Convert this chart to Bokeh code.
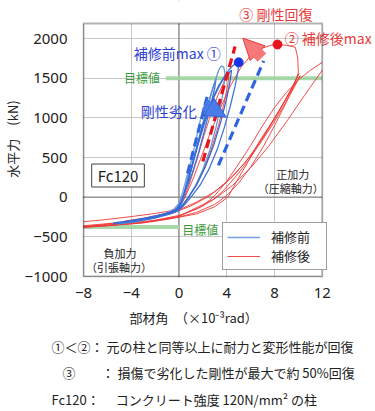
from bokeh.plotting import figure
from bokeh.models import (Label, Legend, LegendItem, Span, Arrow, NormalHead, FixedTicker,
                          Range1d, BoxAnnotation, Title)
from bokeh.embed import file_html
from bokeh.resources import INLINE

FONT = "Noto Sans CJK JP"
NUM_FONT = "Noto Sans"

# ---------------- data ----------------
x_ticks = [-8, -4, 0, 4, 8, 12]
y_ticks = [-1000, -500, 0, 500, 1000, 1500, 2000]
x_tick_text = ["\u22128", "\u22124", "0", "4", "8", "12"]

# 補修前 (before repair) hysteresis loops
blue_x = [
    [-2.0, -1.2, -0.6, -0.2, 0.1, 0.35, 0.7, 1.1, 1.5, 1.8, 1.7, 1.4, 1.0, 0.6, 0.3, 0.0, -0.5, -1.2, -2.0],
    [-3.6, -2.5, -1.5, -0.8, -0.3, 0.1, 0.4, 0.8, 1.3, 1.8, 2.3, 2.8, 3.1, 3.0, 2.6, 2.1, 1.6, 1.1, 0.6, 0.2, -0.3, -1.2, -2.4, -3.6],
    [-5.2, -4.0, -2.8, -1.6, -0.8, -0.3, 0.1, 0.5, 1.0, 1.6, 2.2, 2.7, 3.1, 3.35, 3.55, 3.75, 3.85, 3.75, 3.5, 3.1, 2.6, 2.0, 1.4, 0.8, 0.3, -0.2, -1.0, -2.2, -3.6, -5.2],
    [-4.5, -3.0, -1.5, -0.6, -0.1, 0.3, 0.8, 1.4, 2.0, 2.7, 3.3, 3.9, 4.4, 4.3, 4.0, 3.5, 2.9, 2.2, 1.5, 0.8, 0.2, -0.5, -2.0, -4.5],
    [-5.5, -4.2, -3.0, -1.8, -1.0, -0.4, 0.0, 0.4, 0.9, 1.5, 2.2, 2.9, 3.6, 4.2, 4.6, 5.0, 4.95, 4.7, 4.3, 3.8, 3.2, 2.5, 1.8, 1.1, 0.5, 0.0, -0.8, -2.0, -3.5, -5.5],
]
blue_y = [
    [-240, -215, -190, -165, -110, 0, 220, 500, 780, 980, 900, 700, 450, 230, 60, -80, -160, -210, -245],
    [-300, -270, -235, -205, -175, -120, 0, 220, 520, 820, 1100, 1360, 1490, 1380, 1120, 820, 540, 300, 100, -60, -160, -220, -265, -305],
    [-335, -310, -280, -240, -205, -175, -110, 60, 330, 680, 1020, 1300, 1500, 1610, 1655, 1640, 1560, 1380, 1150, 880, 600, 350, 150, 0, -100, -170, -220, -270, -310, -340],
    [-310, -275, -230, -195, -150, -20, 230, 560, 900, 1200, 1400, 1530, 1600, 1480, 1250, 950, 650, 380, 160, 0, -120, -190, -250, -315],
    [-325, -300, -270, -230, -200, -170, -120, 40, 300, 620, 960, 1250, 1470, 1610, 1670, 1700, 1600, 1400, 1150, 880, 600, 350, 160, 20, -90, -165, -215, -260, -300, -335],
]
blue_colors = ["#6f9ce2", "#3a6dd6", "#5b96d6", "#2e60cf", "#3a6dd6"]

# 補修後 (after repair) hysteresis loops (the largest cycle leaves the chart at x = 12)
red_x = [
    [-4.5, -3.0, -1.5, -0.5, 0.0, 0.4, 0.9, 1.5, 2.1, 2.7, 3.3, 3.8, 4.2, 4.1, 3.8, 3.3, 2.7, 2.0, 1.3, 0.7, 0.2, -0.5, -2.0, -4.5],
    [-8.0, -6.0, -4.0, -2.0, -0.8, 0.0, 0.5, 1.1, 1.8, 2.6, 3.4, 4.3, 5.2, 6.1, 7.0, 7.7, 8.25, 9.0, 9.75, 9.95, 10.0, 9.7, 9.0, 8.0, 7.0, 6.0, 5.0, 4.0, 3.0, 1.5, 0.0, -2.0, -4.0, -6.0, -8.0],
    [-8.0, -6.0, -4.0, -2.0, 0.0, 1.5, 3.0, 4.5, 6.0, 7.3, 8.5, 9.4, 10.05, 9.6, 8.8, 7.8, 6.8, 5.8, 4.9, 4.1, 3.0, 1.5, -1.0, -3.0, -5.5, -8.0],
    [-8.0, -5.0, -2.5, -0.5, 1.0, 2.5, 4.0, 5.5, 7.0, 8.3, 9.3, 10.15, 9.7, 8.9, 7.9, 6.9, 5.8, 4.7, 3.7, 2.8, 1.5, 0.0, -2.0, -5.0, -8.0],
    [0.0, 1.5, 3.0, 4.5, 6.0, 7.5, 9.0, 10.5, 12.0],
    [12.0, 11.0, 10.0, 9.0, 8.0, 7.0, 6.0, 5.0, 4.0, 3.0, 2.0, 0.0, -3.0, -8.0],
]
red_y = [
    [-300, -265, -220, -180, -140, -30, 180, 470, 780, 1060, 1300, 1460, 1560, 1430, 1200, 900, 600, 330, 120, -30, -140, -200, -250, -305],
    [-310, -280, -245, -205, -175, -130, 0, 200, 480, 800, 1100, 1400, 1640, 1800, 1880, 1915, 1925, 1915, 1890, 1750, 1570, 1430, 1200, 900, 620, 380, 180, 20, -90, -190, -250, -300, -335, -360, -380],
    [-375, -340, -300, -240, -160, -60, 70, 260, 520, 820, 1120, 1360, 1560, 1420, 1200, 950, 720, 450, 220, 0, -120, -210, -280, -325, -355, -380],
    [-360, -320, -270, -200, -110, 10, 190, 430, 740, 1060, 1320, 1530, 1400, 1180, 930, 700, 460, 250, 80, -40, -150, -230, -290, -340, -375],
    [-240, -130, -20, 150, 370, 640, 950, 1280, 1600],
    [1700, 1600, 1480, 1320, 1130, 900, 650, 420, 200, 20, -110, -240, -320, -370],
]

# stiffness lines
blue_init_x = [0.72, 2.45]
blue_init_y = [300, 1320]
blue_deg_x = [3.3, 7.1]
blue_deg_y = [400, 1720]
red_rec_x = [2.0, 4.7]
red_rec_y = [450, 1900]

# maxima
blue_max_x = [5.0]
blue_max_y = [1700]
red_max_x = [8.25]
red_max_y = [1925]

# target values (目標値)
target_pos_x = [-1.1, 12.0]
target_pos_y = [1500, 1500]
target_neg_x = [-8.0, 0.0]
target_neg_y = [-375, -375]

# arrows (start -> end)
arrow_blue_x = [2.15, 3.95]
arrow_blue_y = [1170, 1010]
arrow_red_x = [6.95, 5.35]
arrow_red_y = [1760, 2005]

# ---------------- geometry ----------------
W, H = 375, 411
XMIN, XMAX = -8, 12
YMIN, YMAX = -1000, 2190
BOX_L, BOX_R, BOX_T, BOX_B = 79, 321, 23, 276     # pixel box of the chart area
PPX = (BOX_R - BOX_L) / (XMAX - XMIN)
PPY = (BOX_B - BOX_T) / (YMAX - YMIN)
FR_L, FR_B = BOX_L - 1, BOX_B + 1                  # bokeh frame (1px larger so the border is not clipped)

x_start = XMIN - (BOX_L - FR_L) / PPX
x_end = XMAX + (W - BOX_R) / PPX
y_start = YMIN - (FR_B - BOX_B) / PPY
y_end = YMAX + BOX_T / PPY

p = figure(width=W, height=H, x_range=Range1d(x_start, x_end), y_range=Range1d(y_start, y_end),
           output_backend="svg", toolbar_location=None,
           min_border_left=FR_L, min_border_right=0, min_border_top=0, min_border_bottom=H - FR_B)
p.background_fill_color = "white"
p.border_fill_color = "white"
p.outline_line_color = None


def X(px):
    return XMIN + (px - BOX_L) / PPX


def Y(py):
    return YMIN + (BOX_B - py) / PPY


p.xaxis.ticker = FixedTicker(ticks=x_ticks)
p.yaxis.ticker = FixedTicker(ticks=y_ticks)
p.xaxis.major_label_overrides = {t: s for t, s in zip(x_ticks, x_tick_text)}
for ax in (p.xaxis, p.yaxis):
    ax.axis_line_color = None
    ax.major_tick_line_color = None
    ax.minor_tick_line_color = None
    ax.major_tick_out = 0
    ax.major_tick_in = 0
    ax.minor_tick_out = 0
    ax.major_label_text_font = NUM_FONT
    ax.major_label_text_font_size = "15px"
    ax.major_label_text_color = "#222222"
p.yaxis.major_label_standoff = 15
p.xaxis.major_label_standoff = 10

# y axis title (left panel, centred on the frame height)
p.add_layout(Title(text="水平力　(kN)", align="center", standoff=0, text_font=FONT,
                   text_font_size="13px", text_font_style="normal", text_color="#222222"), "left")

p.xgrid.ticker = FixedTicker(ticks=x_ticks)
p.ygrid.ticker = FixedTicker(ticks=y_ticks)
p.grid.grid_line_color = "#c8c8c8"
p.grid.grid_line_width = 1

p.add_layout(Span(location=0, dimension="width", line_color="#8a8a8a", line_width=1.3, level="underlay"))
p.add_layout(Span(location=0, dimension="height", line_color="#8a8a8a", line_width=1.3, level="underlay"))
# blank the space outside the chart box (right of x=12, above the top)
p.add_layout(BoxAnnotation(left=XMAX, fill_color="white", fill_alpha=1, line_alpha=0, level="underlay"))
p.add_layout(BoxAnnotation(bottom=YMAX, fill_color="white", fill_alpha=1, line_alpha=0, level="underlay"))

# target lines
p.line(target_pos_x, target_pos_y, line_color="#9fd49f", line_width=4, line_alpha=0.9)
p.line(target_neg_x, target_neg_y, line_color="#9fd49f", line_width=4, line_alpha=0.9)

# loops
r_red = p.multi_line(red_x, red_y, line_color="#ee3a3a", line_width=1.0, line_alpha=0.9)
r_blue = p.multi_line(blue_x, blue_y, line_color=blue_colors, line_width=1.3, line_alpha=0.95)

# stiffness dashed lines
p.line(blue_init_x, blue_init_y, line_color="#2f66e0", line_width=3.2, line_dash="9 5")
p.line(blue_deg_x, blue_deg_y, line_color="#2f66e0", line_width=3.2, line_dash="9 5")
p.line(red_rec_x, red_rec_y, line_color="#e8141c", line_width=3.2, line_dash="9 5")

# maxima
p.scatter(blue_max_x, blue_max_y, size=9, color="#1434e6")
p.scatter(red_max_x, red_max_y, size=9, color="#e8141c")

# arrows
p.add_layout(Arrow(x_start=arrow_blue_x[0], y_start=arrow_blue_y[0], x_end=arrow_blue_x[1], y_end=arrow_blue_y[1],
                   line_width=12, line_color="#4a7ce8",
                   end=NormalHead(size=20, fill_color="#4a7ce8", line_color="#2f5fd8", line_width=1)))
p.add_layout(Arrow(x_start=arrow_red_x[0], y_start=arrow_red_y[0], x_end=arrow_red_x[1], y_end=arrow_red_y[1],
                   line_width=12, line_color="#f77a7a",
                   end=NormalHead(size=21, fill_color="#f77a7a", line_color="#e83a3a", line_width=1)))

# chart border
p.add_layout(BoxAnnotation(left=XMIN, right=XMAX, bottom=YMIN, top=YMAX, fill_alpha=0,
                           line_color="black", line_width=2, level="overlay"))


def lab(px, py, text, color="#222222", size="13px", align="left", **kw):
    p.add_layout(Label(x=X(px), y=Y(py), text=text, text_font=FONT, text_font_size=size,
                       text_color=color, text_align=align, text_baseline="middle", **kw))


RED = "#e83a3a"
BLUE = "#2b40d4"
GREEN = "#3c9a3c"
lab(237, 13, "③ 剛性回復", RED, "14px")
lab(283, 37, "② 補修後max", RED, "14px")
lab(130, 52, "補修前max ①", BLUE, "14px")
lab(137, 110, "剛性劣化", BLUE, "14px")
lab(120, 77, "目標値", GREEN, "12px")
lab(179, 229, "目標値", GREEN, "12px")
lab(114, 175, "Fc120", "#222222", "15px", "center",
    border_line_color="#444444", background_fill_color="white",
    padding=dict(left=6, right=6, top=1, bottom=1))
lab(291, 173, "正加力", "#222222", "11px", "center")
lab(289, 187, "（圧縮軸力）", "#222222", "11px", "center")
lab(116, 252, "負加力", "#222222", "11px", "center")
lab(115, 266, "（引張軸力）", "#222222", "11px", "center")

legend = Legend(items=[LegendItem(label="補修前", renderers=[r_blue], index=0),
                       LegendItem(label="補修後", renderers=[r_red], index=0)],
                location=(218 - FR_L, FR_B - 270), orientation="vertical",
                label_text_font=FONT, label_text_font_size="13px", label_text_color="#222222",
                glyph_width=33, glyph_height=14, label_standoff=11, label_width=51,
                padding=4, spacing=0, margin=0,
                border_line_color="#404040", border_line_width=1, background_fill_color="white")
p.add_layout(legend, "center")

# texts below the chart
below_lines = [
    ("部材角　（×10⁻³rad）", 125, 11),
    ("①＜②： 元の柱と同等以上に耐力と変形性能が回復", 47, 4),
    ("③　　： 損傷で劣化した剛性が最大で約 50%回復", 58, 7),
    ("Fc120：　 コンクリート強度 120N/mm² の柱", 47, 5),
]
for text, px, so in below_lines:
    p.add_layout(Title(text=text, align="left", offset=px - FR_L, standoff=so, text_font=FONT,
                       text_font_size="13px", text_font_style="normal", text_color="#222222"), "below")

open("out.html", "w").write(file_html(p, INLINE))
